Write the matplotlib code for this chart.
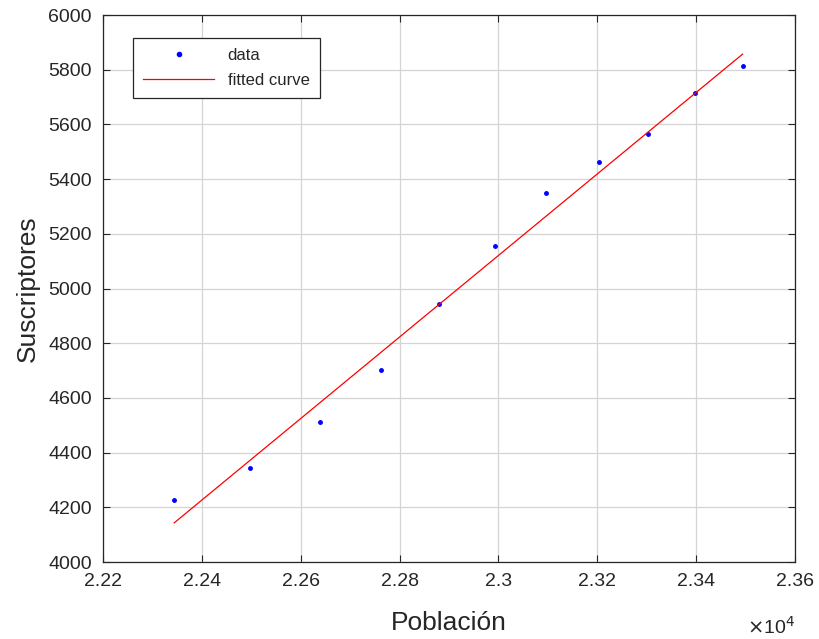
import numpy as np
import matplotlib.pyplot as plt
from matplotlib.ticker import FuncFormatter

# values
poblacion = [22344, 22497, 22639, 22762, 22880, 22993, 23097, 23203, 23302, 23397, 23494]
suscriptores = [4227, 4344, 4512, 4702, 4944, 5157, 5348, 5461, 5565, 5715, 5813]
fit_x = [22344, 23494]
fit_y = [4143, 5857]

x_ticks = [22200, 22400, 22600, 22800, 23000, 23200, 23400, 23600]
y_ticks = [4000, 4200, 4400, 4600, 4800, 5000, 5200, 5400, 5600, 5800, 6000]

plt.rcParams['font.family'] = ['Liberation Sans', 'DejaVu Sans']
txt = '#262626'

fig = plt.figure(figsize=(8.2, 6.39), dpi=100)
ax = fig.add_axes([0.1256, 0.1205, 0.8439, 0.856])

ax.plot(poblacion, suscriptores, '.', color='blue', markersize=5, label='data')
ax.plot(fit_x, fit_y, '-', color='red', linewidth=0.9, label='fitted curve')

ax.set_xlim(22200, 23600)
ax.set_ylim(4000, 6000)
ax.set_xticks(x_ticks)
ax.set_yticks(y_ticks)
ax.xaxis.set_major_formatter(FuncFormatter(lambda v, p: f"{v / 1e4:g}"))

ax.grid(True, color='#d4d4d4', linewidth=0.9)
ax.set_axisbelow(True)
ax.tick_params(direction='in', top=True, right=True, length=5, width=0.8,
               labelsize=14, labelcolor=txt, color=txt, pad=8)
for s in ax.spines.values():
    s.set_color(txt)
    s.set_linewidth(0.9)

ax.set_xlabel('Población', fontsize=19, color=txt, labelpad=15)
ax.set_ylabel('Suscriptores', fontsize=19, color=txt, labelpad=6)
ax.text(1.0, -0.098, r'$\times$10$^4$', transform=ax.transAxes, ha='right',
        va='top', fontsize=14, color=txt)

leg = ax.legend(loc='upper left', bbox_to_anchor=(0.043, 0.958), borderaxespad=0,
                fontsize=12, frameon=True, fancybox=False, edgecolor=txt, framealpha=1,
                handlelength=4.3, borderpad=0.6, labelspacing=0.6, markerscale=1.2)
leg.get_frame().set_linewidth(0.9)
for t in leg.get_texts():
    t.set_color(txt)

fig.savefig('out.png', dpi=100)
